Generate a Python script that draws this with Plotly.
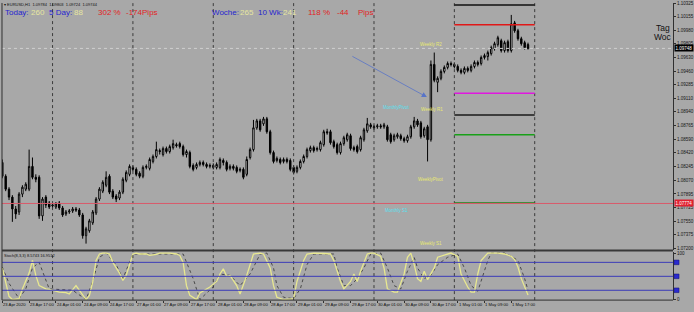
import plotly.graph_objects as go

W, H = 694, 312
def px(x): return x / W
def py(y): return 1 - y / H

# ---------------- data ----------------
bars = list(range(158))
opens = [1.08296,1.08120,1.07956,1.07855,1.07704,1.07666,1.07893,1.07956,1.07956,1.08246,
 1.08107,1.08107,1.07616,1.07855,1.07780,1.07742,1.07729,1.07780,1.07717,1.07641,
 1.07666,1.07679,1.07704,1.07691,1.07628,1.07364,1.07427,1.07528,1.07654,1.07830,
 1.07931,1.08006,1.08120,1.07931,1.07868,1.07843,1.07918,1.08069,1.08145,1.08233,
 1.08208,1.08158,1.08120,1.08233,1.08221,1.08309,1.08372,1.08447,1.08397,1.08473,
 1.08435,1.08485,1.08523,1.08536,1.08498,1.08397,1.08422,1.08258,1.08233,1.08271,
 1.08296,1.08271,1.08246,1.08258,1.08233,1.08233,1.08321,1.08296,1.08221,1.08246,
 1.08233,1.08195,1.08208,1.08145,1.08359,1.08460,1.08737,1.08825,1.08788,1.08851,
 1.08687,1.08422,1.08321,1.08334,1.08309,1.08334,1.08321,1.08233,1.08183,1.08233,
 1.08309,1.08372,1.08447,1.08485,1.08460,1.08460,1.08523,1.08687,1.08687,1.08561,
 1.08523,1.08422,1.08536,1.08586,1.08636,1.08485,1.08498,1.08460,1.08586,1.08699,
 1.08775,1.08737,1.08750,1.08762,1.08750,1.08750,1.08649,1.08586,1.08624,1.08636,
 1.08599,1.08573,1.08624,1.08750,1.08825,1.08800,1.08636,1.08750,1.08586,1.09544,
 1.09317,1.09367,1.09455,1.09506,1.09556,1.09544,1.09518,1.09468,1.09443,1.09493,
 1.09468,1.09518,1.09569,1.09556,1.09632,1.09644,1.09682,1.09745,1.09796,1.09846,
 1.09720,1.09833,1.09720,1.10073,1.09972,1.09871,1.09821,1.09796]
closes = [1.08120,1.07956,1.07855,1.07704,1.07641,1.07893,1.07981,1.08019,1.08246,1.08107,
 1.08082,1.07616,1.07830,1.07754,1.07729,1.07754,1.07767,1.07717,1.07628,1.07666,
 1.07679,1.07704,1.07691,1.07628,1.07364,1.07452,1.07553,1.07666,1.07830,1.07956,
 1.08044,1.08107,1.07918,1.07855,1.07830,1.07918,1.08082,1.08170,1.08246,1.08208,
 1.08145,1.08120,1.08233,1.08246,1.08334,1.08372,1.08460,1.08435,1.08473,1.08435,
 1.08498,1.08536,1.08510,1.08498,1.08397,1.08435,1.08246,1.08208,1.08271,1.08296,
 1.08271,1.08246,1.08258,1.08233,1.08271,1.08334,1.08296,1.08208,1.08246,1.08221,
 1.08183,1.08208,1.08107,1.08334,1.08460,1.08737,1.08825,1.08712,1.08851,1.08687,
 1.08422,1.08309,1.08347,1.08296,1.08334,1.08309,1.08208,1.08170,1.08233,1.08309,
 1.08372,1.08460,1.08485,1.08447,1.08473,1.08548,1.08687,1.08674,1.08548,1.08498,
 1.08422,1.08536,1.08611,1.08649,1.08473,1.08460,1.08435,1.08611,1.08712,1.08788,
 1.08750,1.08750,1.08762,1.08750,1.08775,1.08586,1.08561,1.08636,1.08649,1.08599,
 1.08573,1.08624,1.08750,1.08825,1.08775,1.08624,1.08725,1.08586,1.09544,1.09342,
 1.09367,1.09455,1.09506,1.09556,1.09544,1.09518,1.09468,1.09443,1.09493,1.09468,
 1.09518,1.09569,1.09544,1.09632,1.09657,1.09695,1.09758,1.09808,1.09884,1.09720,
 1.09821,1.09720,1.10060,1.09972,1.09871,1.09808,1.09758,1.09748]
highs = [1.08334,1.08145,1.07981,1.07880,1.07742,1.07918,1.08006,1.08044,1.08460,1.08359,
 1.08145,1.08132,1.07855,1.07880,1.07805,1.07780,1.07792,1.07805,1.07742,1.07691,
 1.07704,1.07729,1.07729,1.07717,1.07654,1.07477,1.07578,1.07691,1.07855,1.07981,
 1.08069,1.08183,1.08145,1.07956,1.07893,1.07943,1.08107,1.08195,1.08271,1.08258,
 1.08233,1.08183,1.08258,1.08271,1.08359,1.08397,1.08561,1.08473,1.08498,1.08498,
 1.08523,1.08586,1.08548,1.08561,1.08523,1.08460,1.08447,1.08284,1.08296,1.08321,
 1.08321,1.08296,1.08284,1.08284,1.08296,1.08359,1.08347,1.08321,1.08271,1.08271,
 1.08258,1.08233,1.08233,1.08372,1.08485,1.08838,1.08851,1.08851,1.08876,1.08876,
 1.08712,1.08447,1.08372,1.08359,1.08359,1.08359,1.08347,1.08258,1.08258,1.08334,
 1.08397,1.08485,1.08510,1.08510,1.08498,1.08573,1.08712,1.08725,1.08712,1.08586,
 1.08548,1.08561,1.08636,1.08674,1.08662,1.08510,1.08523,1.08636,1.08737,1.08863,
 1.08800,1.08775,1.08788,1.08788,1.08800,1.08775,1.08674,1.08662,1.08674,1.08662,
 1.08624,1.08649,1.08775,1.08876,1.08851,1.08825,1.08750,1.08775,1.09594,1.09695,
 1.09392,1.09481,1.09531,1.09581,1.09581,1.09569,1.09544,1.09493,1.09518,1.09518,
 1.09544,1.09594,1.09594,1.09657,1.09682,1.09720,1.09783,1.09833,1.09909,1.09871,
 1.09846,1.09859,1.10174,1.10098,1.09997,1.09896,1.09846,1.09821]
lows = [1.08095,1.07931,1.07817,1.07540,1.07578,1.07628,1.07855,1.07931,1.07931,1.08082,
 1.08044,1.07578,1.07553,1.07717,1.07704,1.07717,1.07704,1.07691,1.07603,1.07616,
 1.07641,1.07654,1.07666,1.07603,1.07326,1.07263,1.07402,1.07502,1.07628,1.07805,
 1.07906,1.07981,1.07893,1.07830,1.07792,1.07817,1.07893,1.08044,1.08120,1.08183,
 1.08120,1.08095,1.08095,1.08208,1.08195,1.08284,1.08347,1.08397,1.08372,1.08410,
 1.08410,1.08460,1.08485,1.08473,1.08372,1.08359,1.08221,1.08183,1.08208,1.08246,
 1.08246,1.08221,1.08221,1.08208,1.08208,1.08208,1.08258,1.08183,1.08195,1.08195,
 1.08158,1.08170,1.08082,1.08120,1.08334,1.08435,1.08712,1.08687,1.08762,1.08662,
 1.08397,1.08284,1.08296,1.08271,1.08284,1.08284,1.08183,1.08145,1.08158,1.08208,
 1.08284,1.08347,1.08422,1.08422,1.08435,1.08435,1.08498,1.08649,1.08523,1.08473,
 1.08397,1.08397,1.08510,1.08561,1.08447,1.08435,1.08410,1.08435,1.08561,1.08674,
 1.08725,1.08712,1.08725,1.08725,1.08725,1.08561,1.08536,1.08561,1.08599,1.08573,
 1.08548,1.08548,1.08599,1.08725,1.08750,1.08599,1.08611,1.08309,1.08561,1.09317,
 1.09191,1.09342,1.09430,1.09481,1.09518,1.09493,1.09443,1.09418,1.09418,1.09443,
 1.09443,1.09493,1.09518,1.09531,1.09607,1.09594,1.09657,1.09720,1.09770,1.09695,
 1.09695,1.09695,1.09695,1.09947,1.09846,1.09783,1.09733,1.09733]

# Stochastic main (%K) and signal (%D)
k_bars = [0,1,2,3,5,6,8,9,10,11,13,14,16,17,19,20,22,23,25,26,27,28,29,30,31,32,33,35,36,37,
 38,39,40,41,43,44,46,47,49,50,52,53,54,55,56,58,59,61,62,64,65,66,67,68,70,71,73,75,77,78,
 80,81,82,84,87,88,90,91,93,96,98,99,101,102,104,105,106,107,109,110,111,113,114,115,117,118,
 120,121,122,123,124,125,126,127,129,130,131,133,134,136,137,139,140,141,142,143,145,146,148,150,
 152,153,154,155,156,157]
k_vals = [68,39,7,0,2,23,57,84,52,30,23,22,18,16,15,12,30,20,0,9,38,84,98,100,100,98,80,57,41,52,
 75,98,100,98,98,95,97,100,100,100,98,95,80,30,9,0,14,23,27,39,55,66,50,52,30,12,52,98,100,98,
 68,30,5,0,2,39,84,98,100,99,98,84,39,23,39,55,39,61,98,100,100,93,68,23,16,16,55,91,100,75,
 45,39,61,43,68,91,93,98,100,93,55,27,16,16,55,84,100,100,100,98,93,86,70,45,27,10]
d_bars = [0,2,5,7,9,11,14,21,25,27,29,31,34,36,39,44,50,54,57,59,61,63,65,68,71,74,77,79,81,82,
 84,87,89,91,93,99,100,102,104,106,108,110,113,115,117,119,121,123,124,126,128,130,133,136,138,
 140,142,143,145,146,150,152,154,156,157]
d_vals = [70,35,2,23,68,80,23,20,0,39,91,100,75,45,98,98,98,98,45,0,14,27,55,52,30,55,98,100,68,30,
 5,2,23,75,98,98,68,30,30,45,68,98,100,68,30,23,61,91,68,45,52,75,91,98,68,30,18,40,84,100,
 100,93,84,45,20]
stoch_levels = [80, 50, 20]

price_ticks = [1.10325,1.10155,1.09980,1.09805,1.09630,1.09460,1.09285,1.09110,1.08940,1.08765,
 1.08590,1.08420,1.08245,1.08070,1.07895,1.07725,1.07550,1.07375,1.07200]
time_tick_bars = [0,8,16,24,32,40,48,56,64,72,80,88,96,104,112,120,128,136,144,152]
time_tick_text = ["23 Apr 2020","23 Apr 17:00","24 Apr 01:00","24 Apr 09:00","24 Apr 17:00",
 "27 Apr 01:00","27 Apr 09:00","27 Apr 17:00","28 Apr 01:00","28 Apr 09:00","28 Apr 17:00",
 "29 Apr 01:00","29 Apr 09:00","29 Apr 17:00","30 Apr 01:00","30 Apr 09:00","30 Apr 17:00",
 "1 May 01:00","1 May 09:00","1 May 17:00"]
day_separators = [15, 39, 63, 87, 111, 135, 159]

daily_levels = [1.10300, 1.10048, 1.09178, 1.08901, 1.08649, 1.07780]
daily_span = [135, 159]
bid_price = 1.09748
alert_price = 1.07774

pivot_labels = ["Weekly R2", "Weekly R1", "WeeklyPivot", "Weekly S1", "MonthlyPivot", "Monthly S1"]
pivot_label_bars = [128, 128.2, 128, 128, 117.8, 117.8]
pivot_label_prices = [1.09796, 1.08964, 1.08082, 1.07263, 1.09002, 1.07679]

arrow_from = (104.1, 1.09657)
arrow_to = (126.8, 1.09128)

# ---------------- styles ----------------
BG = "#a8a8a8"
FONT = "Liberation Sans, Arial, sans-serif"
level_colors = ["#101010", "#e01818", "#e018e0", "#1a1a1a", "#18a018", "#188818"]
pivot_colors = ["#e8e870"] * 4 + ["#58e0f0"] * 2
BLUE = "#2626d0"
YEL = "#e6e6a0"
RED = "#e02424"

X0, X1 = 2, 675
MAIN_T, MAIN_B = 2, 251
OSC_T, OSC_B = 253, 302
xr = [-0.1, -0.1 + (X1 - X0) / 3.358]

fig = go.Figure()
fig.add_trace(go.Candlestick(
    x=bars, open=opens, high=highs, low=lows, close=closes,
    increasing=dict(line=dict(color="#000000", width=1), fillcolor="#ffffff"),
    decreasing=dict(line=dict(color="#000000", width=1), fillcolor="#000000"),
    whiskerwidth=0, hoverinfo="skip", showlegend=False, xaxis="x", yaxis="y"))

fig.add_trace(go.Scatter(x=d_bars, y=d_vals, mode="lines", xaxis="x2", yaxis="y2",
    line=dict(color="#4a4a4a", width=1, dash="dot"), hoverinfo="skip", showlegend=False))
fig.add_trace(go.Scatter(x=k_bars, y=k_vals, mode="lines", xaxis="x2", yaxis="y2",
    line=dict(color="#e8e890", width=1.3), hoverinfo="skip", showlegend=False))

shapes = []
for b in day_separators:
    shapes.append(dict(type="line", xref="x", yref="paper", x0=b, x1=b,
                       y0=py(OSC_B), y1=py(MAIN_T),
                       line=dict(color="#3c3c3c", width=1, dash="dot")))
for lv, c in zip(daily_levels, level_colors):
    shapes.append(dict(type="line", xref="x", yref="y", x0=daily_span[0], x1=daily_span[1],
                       y0=lv, y1=lv, line=dict(color=c, width=1.5)))
shapes.append(dict(type="line", xref="paper", yref="y", x0=px(X0), x1=px(X1),
                   y0=alert_price, y1=alert_price, line=dict(color="#d85a6a", width=1)))
shapes.append(dict(type="line", xref="paper", yref="y", x0=px(X0), x1=px(X1),
                   y0=bid_price, y1=bid_price, line=dict(color="#cfcfcf", width=1, dash="dot")))
for lv in stoch_levels:
    shapes.append(dict(type="line", xref="paper", yref="y2", x0=px(X0), x1=px(X1),
                       y0=lv, y1=lv, line=dict(color="#3a3ab8", width=1)))
    shapes.append(dict(type="rect", xref="paper", yref="y2", x0=px(676), x1=px(681),
                       y0=lv - 5, y1=lv + 5, fillcolor="#2a2ad0",
                       line=dict(color="#101070", width=0.5)))
shapes.append(dict(type="line", xref="paper", yref="paper", x0=px(X0), x1=px(X0),
                   y0=py(OSC_B), y1=py(MAIN_T), line=dict(color="#303030", width=1)))
shapes.append(dict(type="line", xref="paper", yref="paper", x0=px(X0), x1=px(X1),
                   y0=py(252), y1=py(252), line=dict(color="#383838", width=2)))
shapes.append(dict(type="line", xref="paper", yref="paper", x0=px(X0), x1=px(X1),
                   y0=py(OSC_B), y1=py(OSC_B), line=dict(color="#303030", width=1)))

ann = []
for b, t in zip(time_tick_bars, time_tick_text):
    ann.append(dict(x=b, xref="x2", y=py(OSC_B + 1), yref="paper", text=t, showarrow=False,
                    xanchor="left", yanchor="top", borderpad=0,
                    font=dict(size=4.2, color="#101010", family=FONT)))
for t, b, p, c in zip(pivot_labels, pivot_label_bars, pivot_label_prices, pivot_colors):
    ann.append(dict(x=b, y=p, xref="x", yref="y", text=t, showarrow=False,
                    font=dict(size=4.5, color=c, family=FONT)))
ann.append(dict(x=arrow_to[0], y=arrow_to[1], ax=arrow_from[0], ay=arrow_from[1],
                xref="x", yref="y", axref="x", ayref="y", text="", showarrow=True,
                arrowhead=2, arrowsize=1.3, arrowwidth=0.8, arrowcolor="#5874c8"))
ann.append(dict(x=px(675.5), y=bid_price, xref="paper", yref="y", text="1.09748",
                showarrow=False, xanchor="left", bgcolor="#000000", borderpad=0.5,
                font=dict(size=4.5, color="#ffffff", family=FONT)))
ann.append(dict(x=px(675.5), y=alert_price, xref="paper", yref="y", text="1.07774",
                showarrow=False, xanchor="left", bgcolor="#e02030", borderpad=0.5,
                font=dict(size=4.5, color="#ffffff", family=FONT)))

def txt(x, y, t, c, s=8):
    ann.append(dict(x=px(x), y=py(y), xref="paper", yref="paper", text=t, showarrow=False,
                    xanchor="left", yanchor="middle", borderpad=0,
                    font=dict(size=s, color=c, family=FONT)))
txt(3, 4, "▾ EURUSD,H1  1.09784  1.09803  1.09724  1.09744", "#101010", 4)
txt(4, 12, "Today:", BLUE); txt(30, 12, "260", YEL); txt(48, 12, "5 Day:", BLUE)
txt(73, 12, "88", YEL); txt(97, 12, "302 %", RED); txt(125, 12, "-174Pips", RED)
txt(212, 12, "Woche:", BLUE); txt(240, 12, "265", YEL); txt(258, 12, "10 Wk:", BLUE)
txt(283, 12, "241", YEL); txt(308, 12, "118 %", RED); txt(337, 12, "-44", RED)
txt(358, 12, "Pips", RED)
txt(657, 27, "Tag", "#111111", 8.5)
txt(655, 36.5, "Woc", "#111111", 8.5)
txt(3, 257, "Stoch(8,3,3) 8.5743 16.9512", "#101010", 4)

fig.update_layout(
    width=W, height=H, margin=dict(l=0, r=0, t=0, b=0),
    paper_bgcolor=BG, plot_bgcolor=BG, showlegend=False, dragmode=False, boxgap=0.4,
    xaxis=dict(domain=[px(X0), px(X1)], range=xr, anchor="y", showgrid=False, zeroline=False,
               showticklabels=False, rangeslider=dict(visible=False), fixedrange=True),
    xaxis2=dict(domain=[px(X0), px(X1)], range=xr, anchor="y2", showgrid=False, zeroline=False,
                showticklabels=False, tickvals=time_tick_bars, ticks="outside", ticklen=2,
                tickcolor="#303030", fixedrange=True),
    yaxis=dict(domain=[py(MAIN_B), py(MAIN_T)], range=[1.07187, 1.10326], anchor="x",
               side="right", showgrid=False, zeroline=False, tickvals=price_ticks,
               ticktext=[f"{v:.5f}" for v in price_ticks], ticks="outside", ticklen=2,
               tickcolor="#303030", showline=True, linecolor="#303030", linewidth=1,
               tickfont=dict(size=4.5, color="#151515", family=FONT), fixedrange=True),
    yaxis2=dict(domain=[py(OSC_B), py(OSC_T)], range=[-1.1, 103.2], anchor="x2",
                side="right", showgrid=False, zeroline=False, tickvals=[0, 100],
                ticktext=["0", "100"], ticks="outside", ticklen=2, tickcolor="#303030",
                showline=True, linecolor="#303030", linewidth=1,
                tickfont=dict(size=4.5, color="#151515", family=FONT), fixedrange=True),
    shapes=shapes, annotations=ann,
)

fig.write_html("out.html")
